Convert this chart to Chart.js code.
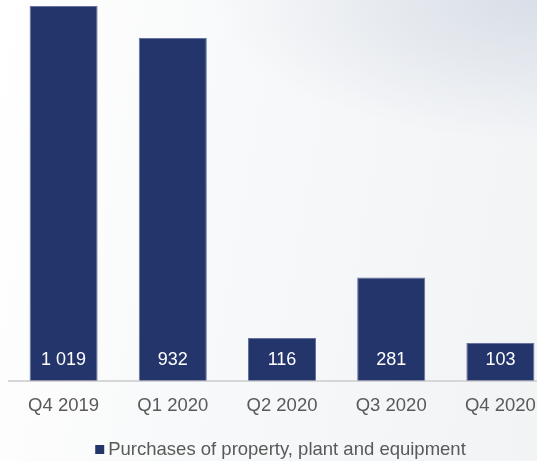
<!DOCTYPE html>
<html>
<head>
<meta charset="utf-8">
<script src="https://cdn.jsdelivr.net/npm/chart.js@4/dist/chart.umd.min.js"></script>
<style>
  html, body { margin: 0; padding: 0; overflow: hidden; width: 537px; height: 461px; }
  body {
    background:
      radial-gradient(ellipse 320px 140px at 537px 0px, rgba(214,220,230,0.9), rgba(214,220,230,0) 100%),
      linear-gradient(100deg, #ffffff 0%, #f8f9fa 40%, #f1f3f5 100%);
  }
  #wrap { position: absolute; left: 0; top: 0; width: 561px; height: 461px; }
</style>
</head>
<body>
<div id="wrap"><canvas id="c" width="561" height="461"></canvas></div>
<script>
// Quarterly purchases of property, plant and equipment
const quarters = ['Q4 2019', 'Q1 2020', 'Q2 2020', 'Q3 2020', 'Q4 2020'];
const purchases = [1019, 932, 116, 281, 103];
const seriesName = 'Purchases of property, plant and equipment';

const NAVY = '#24356b';
const GREY_TEXT = '#595959';
const FONT = '"Liberation Sans", Arial, sans-serif';

// Numbers shown with a space as thousands separator, e.g. "1 019"
function fmt(v) {
  return String(v).replace(/\B(?=(\d{3})+(?!\d))/g, ' ');
}

// Writes each value in white near the foot of its bar
const valueLabels = {
  id: 'valueLabels',
  afterDatasetsDraw(chart) {
    const ctx = chart.ctx;
    const meta = chart.getDatasetMeta(0);
    ctx.save();
    ctx.fillStyle = '#ffffff';
    ctx.font = '18px ' + FONT;
    ctx.textAlign = 'center';
    ctx.textBaseline = 'middle';
    meta.data.forEach((bar, i) => {
      ctx.fillText(fmt(chart.data.datasets[0].data[i]), bar.x, bar.base - 21);
    });
    ctx.restore();
  }
};

// Single-entry legend: small square followed closely by the series name
const bottomLegend = {
  id: 'bottomLegend',
  afterDraw(chart) {
    const ctx = chart.ctx;
    ctx.save();
    ctx.font = '18.5px ' + FONT;
    const box = 9, gap = 4;
    const tw = ctx.measureText(seriesName).width;
    const total = box + gap + tw;
    const x0 = chart.width / 2 - total / 2;
    const cy = chart.height - 11.5;
    ctx.fillStyle = NAVY;
    ctx.fillRect(x0, cy - box / 2, box, box);
    ctx.fillStyle = GREY_TEXT;
    ctx.textBaseline = 'middle';
    ctx.textAlign = 'left';
    ctx.fillText(seriesName, x0 + box + gap, cy);
    ctx.restore();
  }
};

new Chart(document.getElementById('c'), {
  type: 'bar',
  data: {
    labels: quarters,
    datasets: [{
      label: seriesName,
      data: purchases,
      backgroundColor: NAVY,
      borderColor: '#6672a0',
      borderWidth: 1,
      categoryPercentage: 1,
      barPercentage: 0.623
    }]
  },
  options: {
    responsive: false,
    animation: false,
    events: [],
    layout: { padding: { left: 9, right: 6, top: 0, bottom: 38 } },
    scales: {
      x: {
        grid: { display: false },
        border: { display: true, color: '#d6d6d6', width: 2 },
        ticks: {
          color: GREY_TEXT,
          padding: 6,
          font: { family: FONT, size: 18.5 }
        }
      },
      y: {
        display: false,
        min: 0,
        max: 1035
      }
    },
    plugins: {
      tooltip: { enabled: false },
      legend: { display: false }
    }
  },
  plugins: [valueLabels, bottomLegend]
});
</script>
</body>
</html>
